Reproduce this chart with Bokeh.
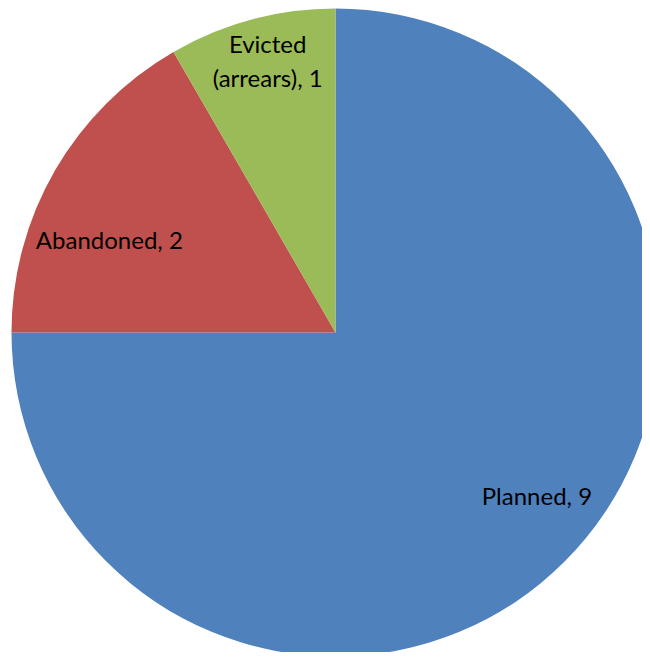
import math
from bokeh.plotting import figure
from bokeh.models import Range1d, ColumnDataSource
from bokeh.core.properties import value
from bokeh.embed import file_html
from bokeh.resources import INLINE

# ---- data ----
categories = ["Planned", "Abandoned", "Evicted (arrears)"]
counts = [9, 2, 1]
colors = ["#4F81BD", "#C0504D", "#9BBB59"]

# ---- layout (pixel-like data units) ----
W, H = 642, 652
cx, cy = 335, 320      # pie centre in data units
R = 324
label_r = [0.80, 0.755, 0.865]
label_dang = [6.0, 7.6, -1.0]  # degrees

total = sum(counts)
starts, ends, lx, ly, texts = [], [], [], [], []
cum = 0
for i, (c, v) in enumerate(zip(categories, counts)):
    a0 = 90 - cum * 360 / total
    a1 = 90 - (cum + v) * 360 / total
    cum += v
    starts.append(math.radians(a1))
    ends.append(math.radians(a0))
    mid = (a0 + a1) / 2 + label_dang[i]
    lx.append(cx + R * label_r[i] * math.cos(math.radians(mid)))
    ly.append(cy + R * label_r[i] * math.sin(math.radians(mid)))
    texts.append(f"{c.replace(' (', chr(10) + '(')}, {v}")

src = ColumnDataSource(dict(start=starts, end=ends, color=colors))
lsrc = ColumnDataSource(dict(x=lx, y=ly, text=texts))

p = figure(width=W, height=H, output_backend="svg", toolbar_location=None,
           x_range=Range1d(0, W), y_range=Range1d(0, H), min_border=0)
p.axis.visible = False
p.grid.visible = False
p.outline_line_color = None
p.background_fill_color = "white"
p.border_fill_color = "white"

p.wedge(x=cx, y=cy, radius=R, start_angle="start", end_angle="end",
        fill_color="color", line_color=None, source=src)
p.text(x="x", y="y", text="text", source=lsrc, text_align="center",
       text_baseline="middle", text_font=value("Lato"),
       text_font_size="24px", text_color="black", text_line_height=1.15)

open("out.html", "w").write(file_html(p, INLINE))
